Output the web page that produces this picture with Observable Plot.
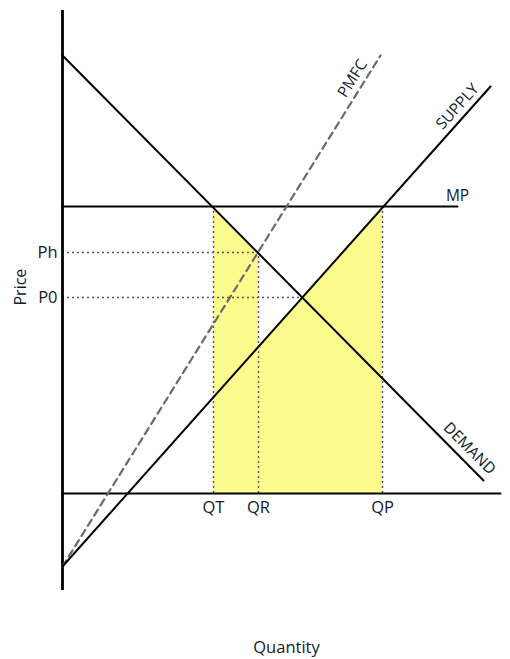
<!DOCTYPE html>
<html>
<head>
<meta charset="utf-8">
<script src="https://cdn.jsdelivr.net/npm/d3@7"></script>
<script src="https://cdn.jsdelivr.net/npm/@observablehq/plot@0.6"></script>
<style>
  html, body { margin: 0; padding: 0; background: #fff; }
  svg { display: block; }
</style>
</head>
<body>
<div id="chart"></div>
<script>
// Curves (quantity, price) endpoints
const demandPts = [{q: 0, p: 43.8}, {q: 42.1, p: 1.3}];
const supplyPts = [{q: 0, p: -7.3}, {q: 42.8, p: 40.7}];
const pmfcPts = [{q: 0, p: -7.3}, {q: 31.8, p: 43.8}];
const mpPts = [{q: 0, p: 28.7}, {q: 39.5, p: 28.7}];
const baselinePts = [{q: 0, p: 0}, {q: 43.8, p: 0}];

// Price levels (labels on the price axis) and quantity levels
const priceLabels = ["Ph", "P0"];
const priceValues = [24.1, 19.6];
const priceLineEnds = [19.6, 24.0];

const qtyLabels = ["QT", "QR", "QP"];
const qtyValues = [15.1, 19.6, 32.0];
const qtyTops = [28.7, 24.1, 28.7];

// Shaded (yellow) areas: top edges
const shadeA = [{q: 15.1, top: 28.7}, {q: 19.6, top: 24.1}];
const shadeB = [{q: 19.6, top: 14.7}, {q: 32.0, top: 28.7}];

// Curve labels
const curveLabels = [
  {text: "PMFC", q: 29.0, p: 41.5, rotate: -58},
  {text: "SUPPLY", q: 39.5, p: 38.7, rotate: -48},
  {text: "DEMAND", q: 40.7, p: 4.5, rotate: 45},
  {text: "MP", q: 39.5, p: 29.7, rotate: 0}
];

const priceRows = priceLabels.map((l, i) => ({label: l, p: priceValues[i], qEnd: priceLineEnds[i]}));
const qtyRows = qtyLabels.map((l, i) => ({label: l, q: qtyValues[i], top: qtyTops[i]}));
const shadeRows = [...shadeA.map(d => ({...d, g: "A"})), ...shadeB.map(d => ({...d, g: "B"}))];

const ink = "#141a2b";
const chart = Plot.plot({
  width: 510,
  height: 659,
  marginLeft: 62,
  marginRight: 0,
  marginTop: 10,
  marginBottom: 69,
  x: {domain: [0, 44.8], axis: null},
  y: {domain: [-9.7, 48.3], axis: null},
  style: {fontFamily: "'Open Sans', sans-serif", fontSize: "16px", color: ink, background: "#fff"},
  marks: [
    Plot.areaY(shadeRows, {x: "q", y1: 0, y2: "top", z: "g", fill: "#fcfc8e"}),
    // dotted guides
    Plot.ruleY(priceRows, {y: "p", x1: 0, x2: "qEnd", stroke: "#555", strokeWidth: 1.4, strokeDasharray: "2,3"}),
    Plot.ruleX(qtyRows, {x: "q", y1: 0, y2: "top", stroke: "#555", strokeWidth: 1.4, strokeDasharray: "2,3"}),
    // axes lines
    Plot.ruleX([0], {y1: -9.7, y2: 48.3, stroke: "#000", strokeWidth: 2.8}),
    Plot.line(baselinePts, {x: "q", y: "p", stroke: "#000", strokeWidth: 2}),
    Plot.line(mpPts, {x: "q", y: "p", stroke: "#000", strokeWidth: 2}),
    // curves
    Plot.line(pmfcPts, {x: "q", y: "p", stroke: "#6a6a6a", strokeWidth: 2.2, strokeDasharray: "7,5"}),
    Plot.line(demandPts, {x: "q", y: "p", stroke: "#000", strokeWidth: 2}),
    Plot.line(supplyPts, {x: "q", y: "p", stroke: "#000", strokeWidth: 2}),
    // labels
    Plot.text(priceRows, {x: 0, y: "p", text: "label", textAnchor: "end", dx: -5, fill: ink, fontSize: 16.5}),
    Plot.text(qtyRows, {x: "q", y: 0, text: "label", dy: 14, fill: ink, fontSize: 16.5}),
    ...curveLabels.map(c => Plot.text([c], {x: "q", y: "p", text: "text", rotate: c.rotate, fill: ink, fontSize: 15.5})),
    Plot.text(["Price"], {frameAnchor: "left", text: d => d, rotate: -90, dx: -42, dy: 5, fill: ink, fontSize: 16}),
    Plot.text(["Quantity"], {frameAnchor: "bottom", text: d => d, dy: 62, fill: ink, fontSize: 16.5})
  ]
});
document.getElementById("chart").appendChild(chart);
</script>
</body>
</html>
